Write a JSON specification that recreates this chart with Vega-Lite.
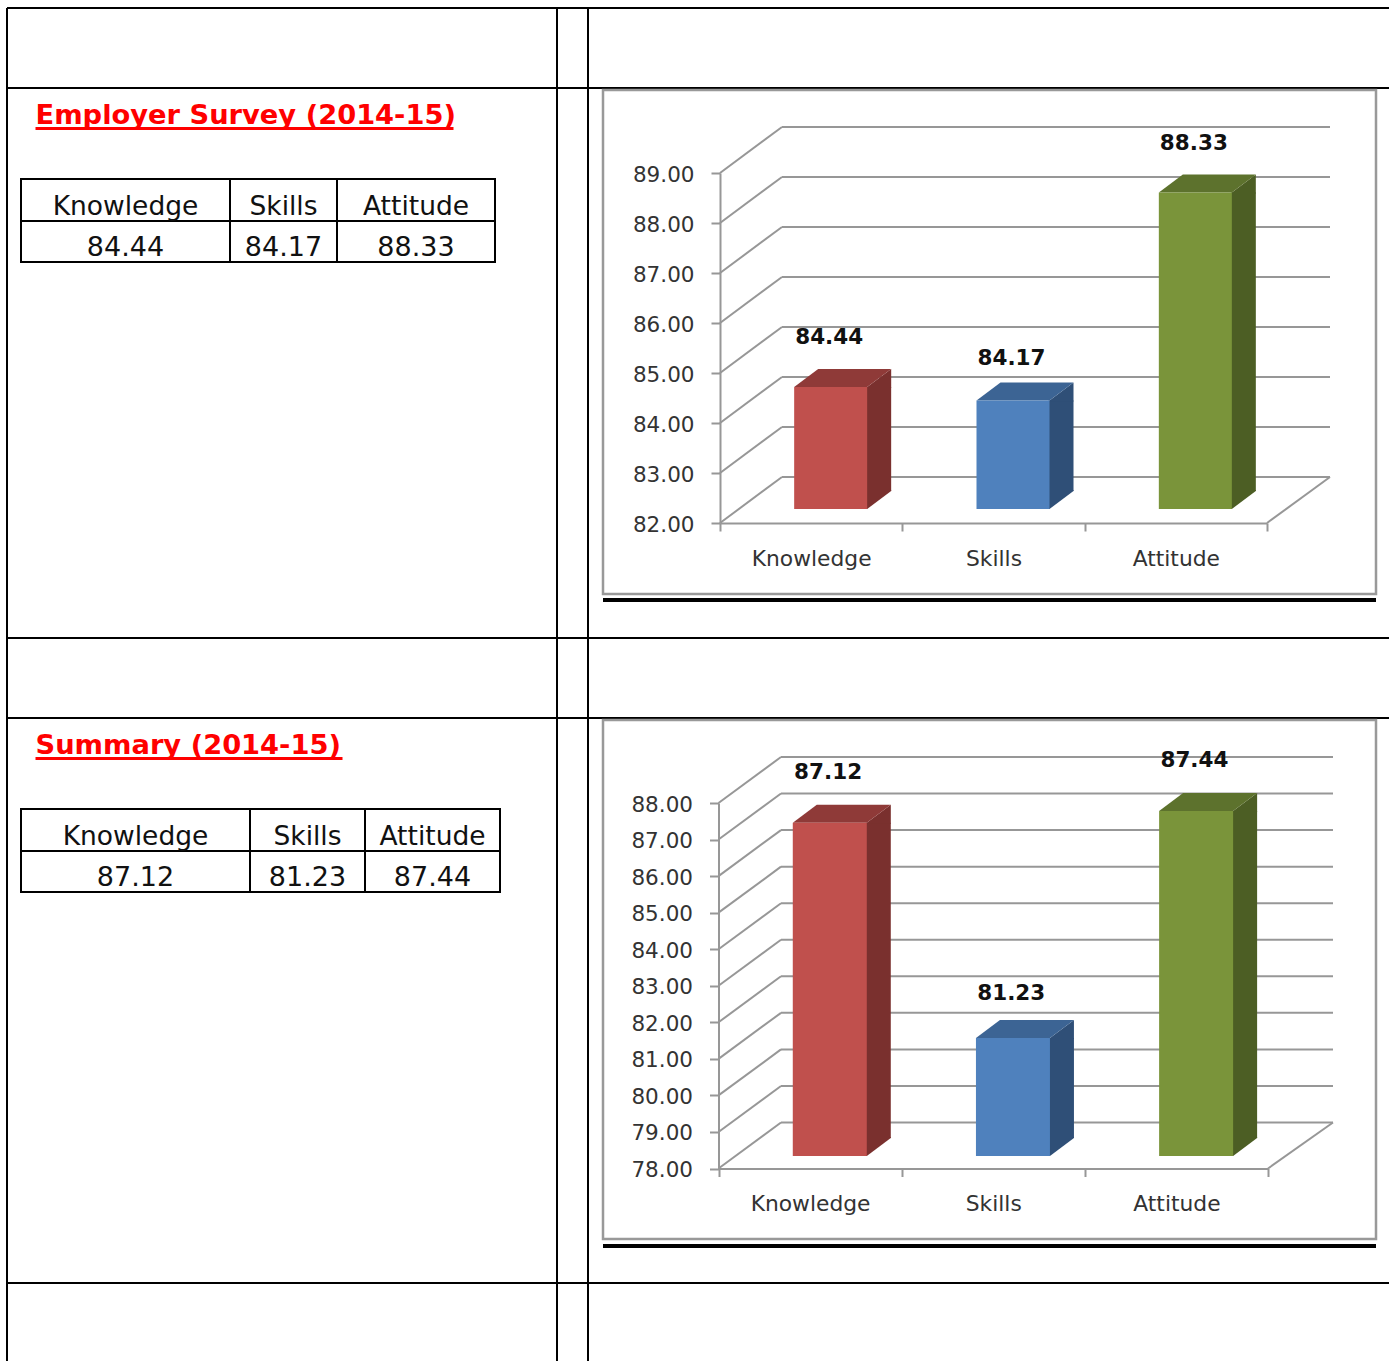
{"$schema":"https://vega.github.io/schema/vega-lite/v6.json","width":1389,"height":1361,"autosize":{"type":"none"},"padding":0,"background":"white","config":{"view":{"stroke":null},"axis":{"grid":false,"title":null}},
"datasets":{
"scores":[
{"survey":"Employer Survey","metric":"Knowledge","value":84.44,"col":0,"colEnd":1,"mid":0.5},
{"survey":"Employer Survey","metric":"Skills","value":84.17,"col":1,"colEnd":2,"mid":1.5},
{"survey":"Employer Survey","metric":"Attitude","value":88.33,"col":2,"colEnd":3,"mid":2.5},
{"survey":"Summary","metric":"Knowledge","value":87.12,"col":0,"colEnd":1,"mid":0.5},
{"survey":"Summary","metric":"Skills","value":81.23,"col":1,"colEnd":2,"mid":1.5},
{"survey":"Summary","metric":"Attitude","value":87.44,"col":2,"colEnd":3,"mid":2.5}],
"levelsA":[{"level":82},{"level":83},{"level":84},{"level":85},{"level":86},{"level":87},{"level":88},{"level":89}],
"levelsB":[{"level":78},{"level":79},{"level":80},{"level":81},{"level":82},{"level":83},{"level":84},{"level":85},{"level":86},{"level":87},{"level":88}],
"pageRows":[{"row":0},{"row":1},{"row":2},{"row":3},{"row":4}],
"pageCols":[{"col":0},{"col":1},{"col":2}],
"headingA":[{"heading":"Employer Survey (2014-15)"}],
"headingB":[{"heading":"Summary (2014-15)"}]
},
"layer":[
{"layer":[
{"data":{"name":"pageRows"},"mark":{"type":"rule","color":"black","strokeWidth":2},"encoding":{"y":{"field":"row","type":"quantitative","axis":null,"scale":{"domain":[0,1,2,3,4,5],"range":[8,88,638,718,1283,1375],"nice":false,"zero":false}},"x":{"datum":0,"type":"quantitative","axis":null,"scale":{"domain":[0,1,2,3],"range":[7,557,588,1400],"nice":false,"zero":false}},"x2":{"datum":3}}},
{"data":{"name":"pageCols"},"mark":{"type":"rule","color":"black","strokeWidth":2},"encoding":{"x":{"field":"col","type":"quantitative","axis":null},"y":{"datum":0,"type":"quantitative","axis":null},"y2":{"datum":5}}}
]},
{"data":{"name":"headingA"},
"encoding":{"x":{"datum":0,"type":"quantitative","axis":null,"scale":{"domain":[0,1],"range":[35.5,453.5],"nice":false,"zero":false}},"y":{"datum":0,"type":"quantitative","axis":null,"scale":{"domain":[0,1],"range":[116,128.5],"nice":false,"zero":false}}},
"layer":[
{"mark":{"type":"text","font":"DejaVu Sans","fontWeight":"bold","fontSize":27.3,"color":"#ff0000","align":"left","baseline":"middle"},"encoding":{"text":{"field":"heading"}}},
{"mark":{"type":"rule","color":"#ff0000","strokeWidth":3},"encoding":{"x2":{"datum":1},"y":{"datum":1,"type":"quantitative"}}}
]},
{"data":{"name":"headingB"},
"encoding":{"x":{"datum":0,"type":"quantitative","axis":null,"scale":{"domain":[0,1],"range":[35.5,342.5],"nice":false,"zero":false}},"y":{"datum":0,"type":"quantitative","axis":null,"scale":{"domain":[0,1],"range":[746,758.5],"nice":false,"zero":false}}},
"layer":[
{"mark":{"type":"text","font":"DejaVu Sans","fontWeight":"bold","fontSize":27.3,"color":"#ff0000","align":"left","baseline":"middle"},"encoding":{"text":{"field":"heading"}}},
{"mark":{"type":"rule","color":"#ff0000","strokeWidth":3},"encoding":{"x2":{"datum":1},"y":{"datum":1,"type":"quantitative"}}}
]},
{"data":{"name":"scores"},"transform":[{"filter":"datum.survey==='Employer Survey'"}],
"encoding":{"x":{"field":"col","type":"quantitative","axis":null,"scale":{"domain":[0,1,2,3],"range":[21,230,337,495],"nice":false,"zero":false}},"y":{"datum":0,"type":"quantitative","axis":null,"scale":{"domain":[0,1,2],"range":[179,221,262],"nice":false,"zero":false}}},
"layer":[
{"mark":{"type":"rect","fill":"white","stroke":"black","strokeWidth":2},"encoding":{"x2":{"field":"colEnd"},"y":{"datum":0,"type":"quantitative"},"y2":{"datum":1}}},
{"mark":{"type":"rect","fill":"white","stroke":"black","strokeWidth":2},"encoding":{"x2":{"field":"colEnd"},"y":{"datum":1,"type":"quantitative"},"y2":{"datum":2}}},
{"mark":{"type":"text","font":"DejaVu Sans","fontSize":26.5,"color":"#111111","baseline":"middle","dy":7},"encoding":{"x":{"field":"mid","type":"quantitative"},"y":{"datum":0.5,"type":"quantitative"},"text":{"field":"metric"}}},
{"mark":{"type":"text","font":"DejaVu Sans","fontSize":27,"color":"#111111","baseline":"middle","dy":6},"encoding":{"x":{"field":"mid","type":"quantitative"},"y":{"datum":1.5,"type":"quantitative"},"text":{"field":"value","format":".2f"}}}
]},
{"data":{"name":"headingA"},
"encoding":{"x":{"datum":0,"type":"quantitative","axis":null,"scale":{"domain":[0,1],"range":[603,1376],"nice":false,"zero":false}},"x2":{"datum":1},"y":{"datum":0,"type":"quantitative","axis":null,"scale":{"domain":[0,1],"range":[90,594],"nice":false,"zero":false}}},
"layer":[
{"mark":{"type":"rect","fill":null,"stroke":"#999999","strokeWidth":2.5},"encoding":{"y":{"datum":0,"type":"quantitative"},"y2":{"datum":1}}},
{"mark":{"type":"rule","color":"black","strokeWidth":4,"yOffset":6},"encoding":{"y":{"datum":1,"type":"quantitative"}}}
]},
{"data":{"name":"levelsA"},
"encoding":{"y":{"field":"level","type":"quantitative","axis":null,"scale":{"domain":[82,89],"range":[523,173],"nice":false,"zero":false}},"x":{"datum":0,"type":"quantitative","axis":null,"scale":{"domain":[0,1],"range":[720,1267],"nice":false,"zero":false}}},
"layer":[
{"mark":{"type":"rule","color":"#979797","strokeWidth":2,"xOffset":62,"x2Offset":63,"yOffset":-46},"encoding":{"x2":{"datum":1}}},
{"mark":{"type":"rule","color":"#979797","strokeWidth":2,"x2Offset":62,"y2Offset":-46},"encoding":{"x2":{"datum":0},"y2":{"field":"level"}}},
{"transform":[{"filter":"datum.level===82"}],"mark":{"type":"rule","color":"#979797","strokeWidth":2,"x2Offset":63,"y2Offset":-46},"encoding":{"x":{"datum":1,"type":"quantitative"},"x2":{"datum":1},"y2":{"field":"level"}}}
]},
{"data":{"name":"scores"},"transform":[{"filter":"datum.survey==='Employer Survey'"}],
"encoding":{
"x":{"field":"metric","type":"nominal","sort":["Knowledge","Skills","Attitude"],"scale":{"type":"band","domain":["Knowledge","Skills","Attitude"],"range":[720,1267],"paddingInner":0,"paddingOuter":0},"axis":{"orient":"bottom","offset":-838,"tickBand":"extent","domainColor":"#979797","domainWidth":2,"tickColor":"#979797","tickWidth":2,"tickSize":8,"labelAngle":0,"labelFont":"DejaVu Sans","labelFontSize":21.8,"labelColor":"#333333","labelPadding":17,"labelBaseline":"top","title":null}},
"y":{"field":"value","type":"quantitative","scale":{"domain":[82,89],"range":[523,173],"nice":false,"zero":false},"axis":{"orient":"left","offset":-720,"values":[82,83,84,85,86,87,88,89],"format":".2f","domainColor":"#979797","domainWidth":2,"tickColor":"#979797","tickWidth":2,"tickSize":9,"labelFont":"DejaVu Sans","labelFontSize":21.5,"labelColor":"#333333","labelPadding":17,"labelOffset":2,"title":null}}},
"resolve":{"scale":{"color":"independent"}},
"layer":[
{"mark":{"type":"bar","width":25,"xOffset":67.5,"yOffset":-14,"y2Offset":-32},"encoding":{"y2":{"datum":82},"color":{"field":"metric","legend":null,"scale":{"domain":["Knowledge","Skills","Attitude"],"range":["#7a302e","#2f4f77","#4c5e24"]}}}},
{"mark":{"type":"point","filled":true,"opacity":1,"size":4,"shape":"M56 -14 L80 -32 L80 -13 L56 -13 Z"},"encoding":{"color":{"field":"metric","legend":null,"scale":{"domain":["Knowledge","Skills","Attitude"],"range":["#7a302e","#2f4f77","#4c5e24"]}}}},
{"mark":{"type":"point","filled":true,"opacity":1,"size":4,"shape":"M55 -14 L56 -14 L80 -32 L80 -33 L55 -33 Z"},"encoding":{"y":{"datum":82,"type":"quantitative"},"color":{"field":"metric","legend":null,"scale":{"domain":["Knowledge","Skills","Attitude"],"range":["#7a302e","#2f4f77","#4c5e24"]}}}},
{"mark":{"type":"point","filled":true,"opacity":1,"size":4,"shape":"M-17 -14 L56 -14 L80 -32 L7 -32 Z"},"encoding":{"color":{"field":"metric","legend":null,"scale":{"domain":["Knowledge","Skills","Attitude"],"range":["#8f3a38","#3c6494","#5d722d"]}}}},
{"mark":{"type":"bar","width":73,"xOffset":19.5,"yOffset":-14,"y2Offset":-14},"encoding":{"y2":{"datum":82},"color":{"field":"metric","legend":null,"scale":{"domain":["Knowledge","Skills","Attitude"],"range":["#c0504d","#4f81bd","#7a943a"]}}}},
{"transform":[{"filter":"datum.metric!=='Skills'"}],"mark":{"type":"text","font":"DejaVu Sans","fontWeight":"bold","fontSize":21.5,"color":"#111111","baseline":"middle","dx":18,"dy":-63},"encoding":{"text":{"field":"value","format":".2f"}}},
{"transform":[{"filter":"datum.metric==='Skills'"}],"mark":{"type":"text","font":"DejaVu Sans","fontWeight":"bold","fontSize":21.5,"color":"#111111","baseline":"middle","dx":18,"dy":-56},"encoding":{"text":{"field":"value","format":".2f"}}}
]},
{"data":{"name":"scores"},"transform":[{"filter":"datum.survey==='Summary'"}],
"encoding":{"x":{"field":"col","type":"quantitative","axis":null,"scale":{"domain":[0,1,2,3],"range":[21,250,365,500],"nice":false,"zero":false}},"y":{"datum":0,"type":"quantitative","axis":null,"scale":{"domain":[0,1,2],"range":[809,851,892],"nice":false,"zero":false}}},
"layer":[
{"mark":{"type":"rect","fill":"white","stroke":"black","strokeWidth":2},"encoding":{"x2":{"field":"colEnd"},"y":{"datum":0,"type":"quantitative"},"y2":{"datum":1}}},
{"mark":{"type":"rect","fill":"white","stroke":"black","strokeWidth":2},"encoding":{"x2":{"field":"colEnd"},"y":{"datum":1,"type":"quantitative"},"y2":{"datum":2}}},
{"mark":{"type":"text","font":"DejaVu Sans","fontSize":26.5,"color":"#111111","baseline":"middle","dy":7},"encoding":{"x":{"field":"mid","type":"quantitative"},"y":{"datum":0.5,"type":"quantitative"},"text":{"field":"metric"}}},
{"mark":{"type":"text","font":"DejaVu Sans","fontSize":27,"color":"#111111","baseline":"middle","dy":6},"encoding":{"x":{"field":"mid","type":"quantitative"},"y":{"datum":1.5,"type":"quantitative"},"text":{"field":"value","format":".2f"}}}
]},
{"data":{"name":"headingB"},
"encoding":{"x":{"datum":0,"type":"quantitative","axis":null,"scale":{"domain":[0,1],"range":[603,1376],"nice":false,"zero":false}},"x2":{"datum":1},"y":{"datum":0,"type":"quantitative","axis":null,"scale":{"domain":[0,1],"range":[720,1239],"nice":false,"zero":false}}},
"layer":[
{"mark":{"type":"rect","fill":null,"stroke":"#999999","strokeWidth":2.5},"encoding":{"y":{"datum":0,"type":"quantitative"},"y2":{"datum":1}}},
{"mark":{"type":"rule","color":"black","strokeWidth":4,"yOffset":7},"encoding":{"y":{"datum":1,"type":"quantitative"}}}
]},
{"data":{"name":"levelsB"},
"encoding":{"y":{"field":"level","type":"quantitative","axis":null,"scale":{"domain":[78,88],"range":[1168.5,803],"nice":false,"zero":false}},"x":{"datum":0,"type":"quantitative","axis":null,"scale":{"domain":[0,1],"range":[718.5,1268],"nice":false,"zero":false}}},
"layer":[
{"mark":{"type":"rule","color":"#979797","strokeWidth":2,"xOffset":62.5,"x2Offset":65,"yOffset":-46},"encoding":{"x2":{"datum":1}}},
{"mark":{"type":"rule","color":"#979797","strokeWidth":2,"x2Offset":62.5,"y2Offset":-46},"encoding":{"x2":{"datum":0},"y2":{"field":"level"}}},
{"transform":[{"filter":"datum.level===78"}],"mark":{"type":"rule","color":"#979797","strokeWidth":2,"x2Offset":65,"y2Offset":-46},"encoding":{"x":{"datum":1,"type":"quantitative"},"x2":{"datum":1},"y2":{"field":"level"}}}
]},
{"data":{"name":"scores"},"transform":[{"filter":"datum.survey==='Summary'"}],
"encoding":{
"x":{"field":"metric","type":"nominal","sort":["Knowledge","Skills","Attitude"],"scale":{"type":"band","domain":["Knowledge","Skills","Attitude"],"range":[718.5,1268],"paddingInner":0,"paddingOuter":0},"axis":{"orient":"bottom","offset":-192.5,"tickBand":"extent","domainColor":"#979797","domainWidth":2,"tickColor":"#979797","tickWidth":2,"tickSize":8,"labelAngle":0,"labelFont":"DejaVu Sans","labelFontSize":21.8,"labelColor":"#333333","labelPadding":17,"labelBaseline":"top","title":null}},
"y":{"field":"value","type":"quantitative","scale":{"domain":[78,88],"range":[1168.5,803],"nice":false,"zero":false},"axis":{"orient":"left","offset":-718.5,"values":[78,79,80,81,82,83,84,85,86,87,88],"format":".2f","domainColor":"#979797","domainWidth":2,"tickColor":"#979797","tickWidth":2,"tickSize":9,"labelFont":"DejaVu Sans","labelFontSize":21.5,"labelColor":"#333333","labelPadding":17,"labelOffset":2,"title":null}}},
"resolve":{"scale":{"color":"independent"}},
"layer":[
{"mark":{"type":"bar","width":25,"xOffset":68.2,"yOffset":-12.5,"y2Offset":-30.5},"encoding":{"y2":{"datum":78},"color":{"field":"metric","legend":null,"scale":{"domain":["Knowledge","Skills","Attitude"],"range":["#7a302e","#2f4f77","#4c5e24"]}}}},
{"mark":{"type":"point","filled":true,"opacity":1,"size":4,"shape":"M56.7 -12.5 L80.7 -30.5 L80.7 -11.5 L56.7 -11.5 Z"},"encoding":{"color":{"field":"metric","legend":null,"scale":{"domain":["Knowledge","Skills","Attitude"],"range":["#7a302e","#2f4f77","#4c5e24"]}}}},
{"mark":{"type":"point","filled":true,"opacity":1,"size":4,"shape":"M55.7 -12.5 L56.7 -12.5 L80.7 -30.5 L80.7 -31.5 L55.7 -31.5 Z"},"encoding":{"y":{"datum":78,"type":"quantitative"},"color":{"field":"metric","legend":null,"scale":{"domain":["Knowledge","Skills","Attitude"],"range":["#7a302e","#2f4f77","#4c5e24"]}}}},
{"mark":{"type":"point","filled":true,"opacity":1,"size":4,"shape":"M-17.3 -12.5 L56.7 -12.5 L80.7 -30.5 L6.7 -30.5 Z"},"encoding":{"color":{"field":"metric","legend":null,"scale":{"domain":["Knowledge","Skills","Attitude"],"range":["#8f3a38","#3c6494","#5d722d"]}}}},
{"mark":{"type":"bar","width":74,"xOffset":19.7,"yOffset":-12.5,"y2Offset":-12.5},"encoding":{"y2":{"datum":78},"color":{"field":"metric","legend":null,"scale":{"domain":["Knowledge","Skills","Attitude"],"range":["#c0504d","#4f81bd","#7a943a"]}}}},
{"transform":[{"filter":"datum.metric!=='Skills'"}],"mark":{"type":"text","font":"DejaVu Sans","fontWeight":"bold","fontSize":21.5,"color":"#111111","baseline":"middle","dx":18,"dy":-62},"encoding":{"text":{"field":"value","format":".2f"}}},
{"transform":[{"filter":"datum.metric==='Skills'"}],"mark":{"type":"text","font":"DejaVu Sans","fontWeight":"bold","fontSize":21.5,"color":"#111111","baseline":"middle","dx":18,"dy":-56},"encoding":{"text":{"field":"value","format":".2f"}}}
]}
],
"resolve":{"scale":{"x":"independent","y":"independent","color":"independent"},"axis":{"x":"independent","y":"independent"}}
}
